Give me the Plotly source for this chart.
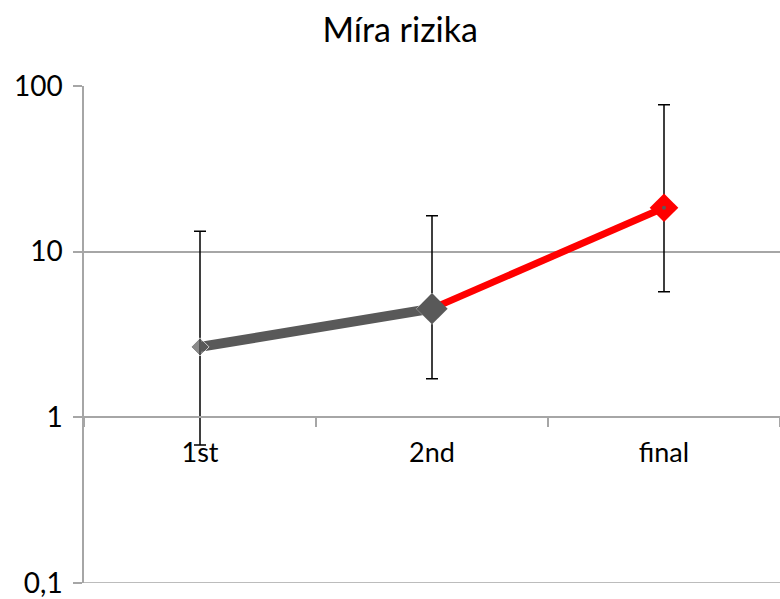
import plotly.graph_objects as go

# Risk measure per stage with confidence limits
categories = ["1st", "2nd", "final"]
risk = [2.66, 4.53, 18.4]
upper = [13.3, 16.5, 77.0]
lower = [0.68, 1.71, 5.72]

y_tickvals = [0.1, 1, 10, 100]
y_ticktext = ["0,1", "1", "10", "100"]

GRAY = "#595959"
RED = "#ff0000"
GRID = "#a6a6a6"
FONT = "Lato, Carlito, Liberation Sans, sans-serif"

err_plus = [u - r for u, r in zip(upper, risk)]
err_minus = [r - l for r, l in zip(risk, lower)]

fig = go.Figure()

# error bars first, so markers sit on top
fig.add_trace(go.Scatter(
    x=categories, y=risk, mode="markers",
    marker=dict(size=1, opacity=0),
    error_y=dict(type="data", symmetric=False, array=err_plus, arrayminus=err_minus,
                 color="#000000", thickness=1.5, width=6),
    showlegend=False, hoverinfo="skip",
))

# gray segment 1st -> 2nd
fig.add_trace(go.Scatter(
    x=categories[:2], y=risk[:2], mode="lines+markers",
    line=dict(color=GRAY, width=10),
    marker=dict(symbol="diamond", size=[14, 24], color=GRAY),
    showlegend=False,
))

# red segment 2nd -> final
fig.add_trace(go.Scatter(
    x=categories[1:], y=risk[1:], mode="lines",
    line=dict(color=RED, width=7),
    showlegend=False,
))

# re-draw the 2nd marker over the red line, then the final marker
fig.add_trace(go.Scatter(
    x=[categories[1]], y=[risk[1]], mode="markers",
    marker=dict(symbol="diamond", size=24, color=GRAY),
    showlegend=False,
))
fig.add_trace(go.Scatter(
    x=[categories[2]], y=[risk[2]], mode="markers",
    marker=dict(symbol="diamond", size=22, color=RED),
    showlegend=False,
))
fig.add_trace(go.Scatter(
    x=[categories[2]], y=[risk[2]], mode="markers",
    marker=dict(symbol="circle", size=4, color=GRAY),
    showlegend=False,
))

# bottom gridline at the lowest tick
fig.add_shape(type="line", xref="paper", yref="y", x0=0, x1=1,
              y0=y_tickvals[0], y1=y_tickvals[0],
              line=dict(color=GRID, width=1.5), layer="below")

fig.update_layout(
    width=780, height=599,
    margin=dict(l=84, r=0, t=86, b=12),
    paper_bgcolor="white", plot_bgcolor="white",
    font=dict(family=FONT, color="#000000"),
    title=dict(text="Míra rizika", x=0.513, xanchor="center", y=0.95, yanchor="middle",
               font=dict(size=34, family=FONT, color="#000000")),
    xaxis=dict(
        type="category", range=[-0.5, 2.5],
        anchor="free", position=1 / 3,
        showline=True, linecolor=GRID, linewidth=1.5,
        ticks="outside", tickson="boundaries", ticklen=9, tickcolor=GRID, tickwidth=1.5,
        showgrid=False, zeroline=False,
        tickfont=dict(size=27, family=FONT), ticklabelstandoff=12,
    ),
    yaxis=dict(
        type="log", range=[-1, 2],
        tickvals=y_tickvals, ticktext=y_ticktext,
        showline=True, linecolor=GRID, linewidth=1.5,
        ticks="outside", ticklen=9, tickcolor=GRID, tickwidth=1.5,
        showgrid=True, gridcolor=GRID, gridwidth=1.5,
        tickfont=dict(size=28, family=FONT), ticklabelstandoff=5,
        ticklabeloverflow="allow",
        zeroline=False,
    ),
)

fig.write_html("out.html")
